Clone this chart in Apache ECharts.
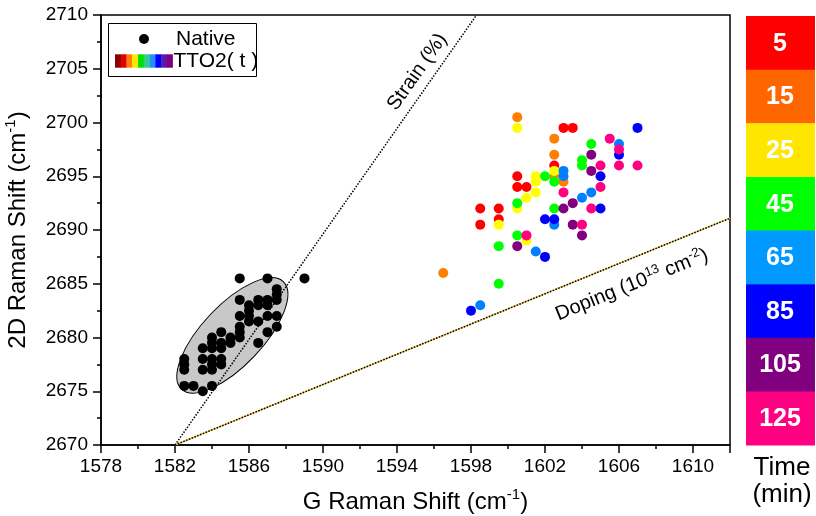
<!DOCTYPE html>
<html><head><meta charset="utf-8">
<script src="https://cdn.jsdelivr.net/npm/echarts@6/dist/echarts.min.js"></script>
<style>html,body{margin:0;padding:0;background:#fff}#c{width:816px;height:516px}</style>
</head><body><div id="c"></div>
<script>
const FONT = '"Liberation Sans", Arial, sans-serif';
const xRange = [1578, 1612];
const yRange = [2670, 2710];
const timeLabels = ['5','15','25','45','65','85','105','125'];
const timeColors = ['#FF0000','#FF6600','#FFE600','#00FF00','#0099FF','#0000FF','#800080','#FF0080'];
const pointColors = ['#FF0000','#FF8000','#FFFF00','#00FF00','#0080FF','#0000FF','#800080','#FF0080'];
const legendStrip = ['#8B0000','#E00000','#FF8000','#FFE600','#00E000','#33CC88','#1E90FF','#0000FF','#5A1AB0','#800080'];

const native = [
[1585.5,2685.5],[1587,2685.5],[1589,2685.5],
[1587.5,2684.5],[1587.5,2684],[1587.5,2683.5],[1587.5,2682],[1587.5,2681],
[1587,2683.5],[1587,2683],[1587,2682],[1587,2680.5],
[1586.5,2683.5],[1586.5,2683],[1586.5,2681.5],[1586.5,2679.5],
[1586,2683],[1586,2682.5],[1586,2682],[1586,2681.5],
[1585.5,2683.5],[1585.5,2682],[1585.5,2681],[1585.5,2680.5],[1585.5,2680],
[1585,2680],[1585,2679.5],
[1584.5,2680.5],[1584.5,2679.5],[1584.5,2679],[1584.5,2678],[1584.5,2677.5],
[1584,2680],[1584,2679.5],[1584,2679],[1584,2678],[1584,2677.5],[1584,2677],[1584,2675.5],
[1583.5,2679],[1583.5,2678],[1583.5,2677],[1583.5,2675],
[1583,2675.5],
[1582.5,2678],[1582.5,2677.5],[1582.5,2677],[1582.5,2675.5]
];
const t5 = [[1603,2699.5],[1603.5,2699.5],[1602.5,2696],[1600.5,2695],[1600.5,2694],[1601,2694],[1598.5,2692],[1599.5,2692],[1598.5,2690.5],[1599.5,2691]];
const t15 = [[1600.5,2700.5],[1602.5,2698.5],[1602.5,2697],[1602.5,2695],[1603,2694.5],[1596.5,2686]];
const t25 = [[1600.5,2699.5],[1602.5,2695.5],[1601.5,2695],[1601.5,2694.5],[1601.5,2693.5],[1601,2693],[1600.5,2692],[1599.5,2690.5],[1601,2689]];
const t45 = [[1602,2695],[1602.5,2694.5],[1600.5,2692.5],[1602.5,2692],[1604,2696.5],[1604,2696],[1604.5,2698],[1600.5,2689.5],[1599.5,2688.5],[1599.5,2685]];
const t65 = [[1603,2695.5],[1603,2695],[1604,2693],[1604.5,2693.5],[1606,2698],[1601.5,2688],[1602.5,2690.5],[1598.5,2683]];
const t85 = [[1607,2699.5],[1606,2697],[1605,2695],[1605,2692],[1602,2691],[1602.5,2691],[1602,2687.5],[1598,2682.5]];
const t105 = [[1604.5,2697],[1604.5,2695.5],[1603.5,2692.5],[1603,2692],[1600.5,2688.5],[1603.5,2690.5],[1604,2689.5]];
const t125 = [[1605.5,2698.5],[1606,2697.5],[1605,2696],[1606,2696],[1607,2696],[1603,2693.5],[1605,2694],[1604.5,2692],[1601,2689.5],[1604,2690.5]];
const timeSeries = [t5,t15,t25,t45,t65,t85,t105,t125];

const strainLine = [[1582,2670],[1598.3,2710]];
const dopingLine = [[1582,2670],[1612,2691.1]];
const ellipseCenter = [1585.1, 2680.2];
const ellipseTip = [1587.85, 2685.2];
const ellipseRatio = 0.41;
const strainLabelAt = [1595.1, 2704.7];
const dopingLabelAt = [1606.7, 2684.9];

const chart = echarts.init(document.getElementById('c'));
const series = [];
series.push({
  type:'custom', z:1, silent:true,
  data:[[ellipseCenter[0], ellipseCenter[1], ellipseTip[0], ellipseTip[1]]],
  renderItem:function(params, api){
    const c = api.coord([api.value(0), api.value(1)]);
    const t = api.coord([api.value(2), api.value(3)]);
    const dx = t[0]-c[0], dy = t[1]-c[1];
    const rx = Math.sqrt(dx*dx+dy*dy);
    return {type:'ellipse', x:c[0], y:c[1], rotation:Math.atan2(-dy, dx),
      shape:{cx:0, cy:0, rx:rx, ry:rx*ellipseRatio},
      style:{fill:'#C8C8C8', stroke:'#000', lineWidth:1, opacity:1}};
  },
  encode:{x:[0,2], y:[1,3]}
});
series.push({type:'line', z:2, data:strainLine, symbol:'none', silent:true,
  lineStyle:{color:'#000', width:1.5, type:'dotted'}});
series.push({type:'line', z:2, data:dopingLine, symbol:'none', silent:true,
  lineStyle:{color:'#F0C040', width:1.5, type:'solid'}});
series.push({type:'line', z:2, data:dopingLine, symbol:'none', silent:true,
  lineStyle:{color:'#000', width:1.5, type:'dotted'}});
series.push({type:'scatter', z:3, data:native, symbol:'circle', symbolSize:10,
  itemStyle:{color:'#000', opacity:1}});
timeSeries.forEach(function(d, i){
  series.push({type:'scatter', z:4, data:d, symbol:'circle', symbolSize:10,
    itemStyle:{color:pointColors[i], opacity:1}});
});

function plain(v){ return String(v); }
const richName = {
  a:{fontSize:24, fontFamily:FONT, color:'#000', lineHeight:30},
  s:{fontSize:15, fontFamily:FONT, color:'#000', verticalAlign:'top', lineHeight:15}
};
function axisBase(){
  return {
    axisLine:{show:true, onZero:false, lineStyle:{color:'#000', width:1.5}},
    axisTick:{show:true, inside:false, length:8, lineStyle:{color:'#000', width:1.5}},
    minorTick:{show:true, splitNumber:2, length:4, lineStyle:{color:'#000', width:1.5}},
    splitLine:{show:false},
    nameLocation:'middle',
    nameTextStyle:{rich:richName}
  };
}

chart.setOption({
  animation:false,
  backgroundColor:'#fff',
  grid:{left:101, top:15, right:86, bottom:71, containLabel:false, outerBoundsMode:'none',
    show:true, borderColor:'#000', borderWidth:1.5, backgroundColor:'transparent'},
  xAxis:Object.assign(axisBase(), {type:'value', min:xRange[0], max:xRange[1], interval:4,
    name:'{a|G Raman Shift (cm}{s|-1}{a|)}', nameGap:42,
    axisLabel:{color:'#000', fontSize:19, fontFamily:FONT, margin:12, showMaxLabel:false, formatter:plain}}),
  yAxis:Object.assign(axisBase(), {type:'value', min:yRange[0], max:yRange[1], interval:5,
    name:'{a|2D Raman Shift (cm}{s|-1}{a|)}', nameGap:68,
    axisLabel:{color:'#000', fontSize:19, fontFamily:FONT, margin:13, formatter:plain}}),
  series:series
});

const sp = chart.convertToPixel({gridIndex:0}, strainLabelAt);
const dp = chart.convertToPixel({gridIndex:0}, dopingLabelAt);
const g = [];
// legend box
g.push({type:'rect', shape:{x:108.5, y:23.5, width:148, height:53}, style:{fill:'#fff', stroke:'#000', lineWidth:1}, z:10});
g.push({type:'circle', shape:{cx:144, cy:39, r:5}, style:{fill:'#000'}, z:11});
g.push({type:'text', x:176, y:39, style:{text:'Native', font:'21px '+FONT, fill:'#000', verticalAlign:'middle'}, z:11});
const stripW = 57.6/legendStrip.length;
legendStrip.forEach(function(c, i){
  g.push({type:'rect', shape:{x:115+i*stripW, y:54.3, width:stripW+0.3, height:13.4}, style:{fill:c}, z:11});
});
g.push({type:'text', x:173.5, y:61, style:{text:'TTO2( t )', font:'21px '+FONT, fill:'#000', verticalAlign:'middle'}, z:11});
// line labels
g.push({type:'text', x:sp[0], y:sp[1], rotation:55*Math.PI/180,
  style:{text:'Strain (%)', font:'20px '+FONT, fill:'#000', align:'center', verticalAlign:'middle'}, z:11});
g.push({type:'text', x:dp[0], y:dp[1], rotation:22*Math.PI/180,
  style:{text:'{a|Doping (10}{s|13}{a| cm}{s|-2}{a|)}', align:'center', verticalAlign:'middle',
    rich:{a:{fontSize:20, fontFamily:FONT, fill:'#000', color:'#000', lineHeight:24},
          s:{fontSize:13, fontFamily:FONT, fill:'#000', color:'#000', verticalAlign:'top', lineHeight:13}}}, z:11});
// colorbar
const cbTop = 16, cbH = 429/timeLabels.length;
timeLabels.forEach(function(t, i){
  g.push({type:'rect', shape:{x:746, y:cbTop+i*cbH, width:69, height:cbH+0.5}, style:{fill:timeColors[i]}, z:10});
  g.push({type:'text', x:780, y:cbTop+i*cbH+cbH/2+1, style:{text:t, font:'bold 25px '+FONT, fill:'#fff', align:'center', verticalAlign:'middle'}, z:11});
});
g.push({type:'text', x:782, y:468, style:{text:'Time', font:'26px '+FONT, fill:'#000', align:'center', verticalAlign:'middle'}, z:11});
g.push({type:'text', x:782, y:495, style:{text:'(min)', font:'26px '+FONT, fill:'#000', align:'center', verticalAlign:'middle'}, z:11});
chart.setOption({graphic:g});
</script></body></html>
